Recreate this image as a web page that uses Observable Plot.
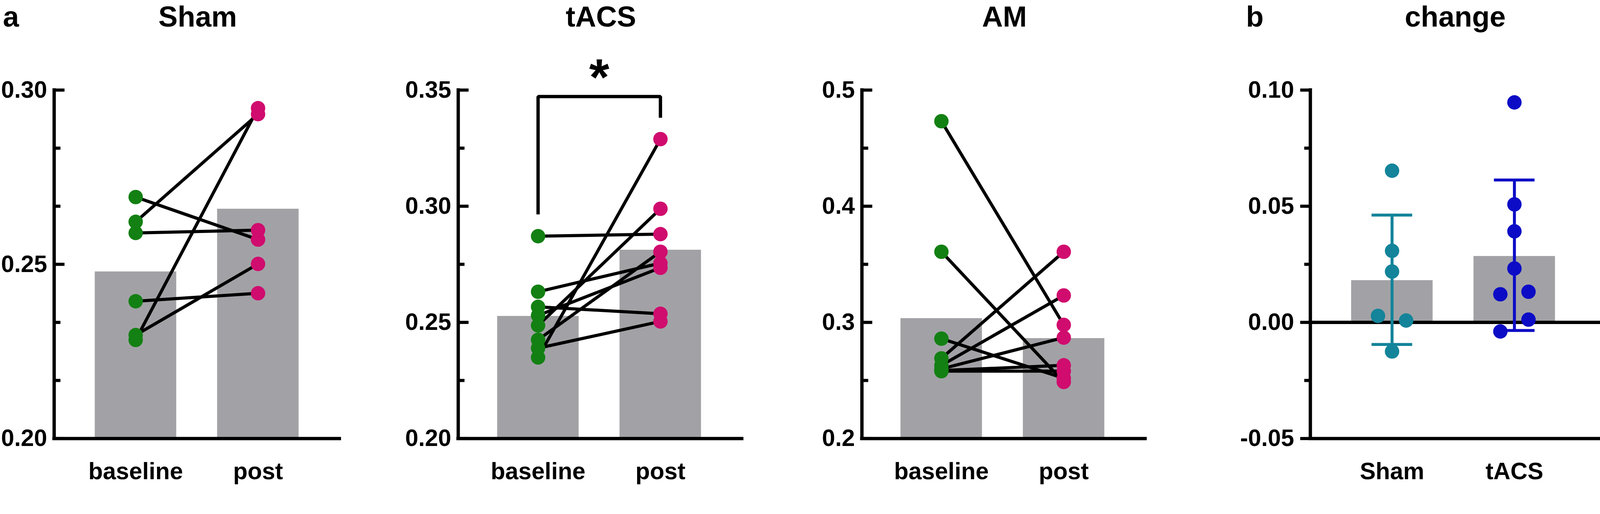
<!DOCTYPE html>
<html>
<head>
<meta charset="utf-8">
<script src="https://cdn.jsdelivr.net/npm/d3@7"></script>
<script src="https://cdn.jsdelivr.net/npm/@observablehq/plot@0.6"></script>
<style>
  html, body { margin: 0; padding: 0; background: #fff; overflow: hidden; }
  #fig { position: relative; width: 4328px; height: 1315px; overflow: hidden; transform-origin: 0 0; }
  #fig > div { position: absolute; top: 0; }
</style>
</head>
<body>
<div id="fig"></div>
<script>
// x categories
const groupsA = ["baseline", "post"];
const groupsB = ["Sham", "tACS"];

// panel a: paired values, one entry per subject
const shamBaseline = [0.2693, 0.2622, 0.2590, 0.2394, 0.2283, 0.2297];
const shamPost     = [0.2571, 0.2931, 0.2598, 0.2417, 0.2948, 0.2501];
const shamMeans    = [0.2479, 0.2659];

const tacsBaseline = [0.2871, 0.2632, 0.2567, 0.2487, 0.2425, 0.2530, 0.2389, 0.2349];
const tacsPost     = [0.2880, 0.2755, 0.2537, 0.2989, 0.2804, 0.2735, 0.2504, 0.3289];
const tacsMeans    = [0.2527, 0.2812];

const amBaseline = [0.4732, 0.3608, 0.2860, 0.2690, 0.2630, 0.2600, 0.2585, 0.2580];
const amPost     = [0.2978, 0.2487, 0.2519, 0.3608, 0.3232, 0.2869, 0.2631, 0.2580];
const amMeans    = [0.3035, 0.2863];

// significance bracket over tACS (x: 0 = baseline, 1 = post)
const bracketX = [0, 0, 1, 1];
const bracketY = [0.2965, 0.3472, 0.3472, 0.3381];

// panel b: change post - baseline
const shamChange = [0.0653, 0.0308, 0.0219, 0.0028, 0.0008, -0.0125];
const shamSide   = [0, 0, 0, -1, 1, 0];
const tacsChange = [0.0947, 0.0508, 0.0392, 0.0232, 0.0121, 0.0132, 0.0012, -0.0039];
const tacsSide   = [0, 0, 0, 0, -1, 1, 1, -1];
const changeMean = [0.0181, 0.0285];
const changeLow  = [-0.0095, -0.0035];
const changeHigh = [0.0462, 0.0613];

// y axes
const shamTicks = [0.2, 0.21667, 0.23333, 0.25, 0.26667, 0.28333, 0.3];
const shamLabels = [0.2, 0.25, 0.3];
const tacsTicks = [0.2, 0.225, 0.25, 0.275, 0.3, 0.325, 0.35];
const tacsLabels = [0.2, 0.25, 0.3, 0.35];
const amTicks = [0.2, 0.25, 0.3, 0.35, 0.4, 0.45, 0.5];
const amLabels = [0.2, 0.3, 0.4, 0.5];
const changeTicks = [-0.05, -0.025, 0, 0.025, 0.05, 0.075, 0.1];
const changeLabels = [-0.05, 0, 0.05, 0.1];

const green = "#138013", pink = "#d00c6e", gray = "#a2a2a6";
const teal = "#13849a", blue = "#0c0cc6";
const unit = 331; // px between the two categories
const fig = document.getElementById("fig");

// keep the 4328x1315 figure inside the window whatever its css size
const fitScale = Math.min(window.innerWidth / 4328, window.innerHeight / 1315);
if (fitScale < 0.999) fig.style.transform = `scale(${fitScale})`;

function panel(cfg) {
  const {axisX, frameW, off0, yDomain, yTicks, yLabels, digits, inward, groups} = cfg;
  const marginLeft = 200, marginRight = cfg.marginRight ?? 40;
  const xLo = -off0 / unit;
  const isMajor = t => yLabels.some(l => Math.abs(l - t) < 1e-6);
  const major = yTicks.filter(isMajor), minor = yTicks.filter(t => !isMajor(t));
  const tickRule = (vals, len) => inward
    ? Plot.ruleY(vals, {strokeWidth: 8.5, insetRight: frameW - len})
    : Plot.ruleY(vals, {strokeWidth: 8.5, insetLeft: -len, insetRight: frameW});

  const marks = [
    ...cfg.marks,
    Plot.ruleX([xLo], {y1: () => yDomain[0], y2: () => yDomain[1], strokeWidth: 9, strokeLinecap: "square"}),
    Plot.ruleY([yDomain[0]], {strokeWidth: 9, insetLeft: -4.5}),
    tickRule(major, inward ? 28.5 : 27),
    tickRule(minor, inward ? 17.5 : 16),
    Plot.text([cfg.title], {text: d => d, frameAnchor: "top", lineAnchor: "bottom", dy: -172, fontSize: 78}),
    ...cfg.after
  ];
  if (cfg.tag) {
    marks.push(Plot.text([cfg.tag], {
      text: d => d, frameAnchor: "top-left", textAnchor: "start", lineAnchor: "bottom",
      dx: cfg.tagDx, dy: cfg.tagDy, fontSize: 78
    }));
  }

  const chart = Plot.plot({
    width: marginLeft + frameW + marginRight,
    height: 1315,
    marginTop: 243,
    marginBottom: 130,
    marginLeft,
    marginRight,
    x: {
      domain: [xLo, xLo + frameW / unit],
      ticks: [0, 1],
      tickFormat: i => groups[i],
      tickSize: 0,
      tickPadding: 64,
      label: null
    },
    y: {
      domain: yDomain,
      ticks: yLabels,
      tickSize: 0,
      tickPadding: inward ? 19 : 44,
      tickFormat: d => d.toFixed(digits),
      label: null
    },
    style: {
      fontFamily: '"Liberation Sans", Arial, sans-serif',
      fontSize: "64px",
      fontWeight: "bold",
      background: "none",
      maxWidth: "none",
      overflow: "visible"
    },
    marks
  });
  const holder = document.createElement("div");
  holder.style.left = (axisX - marginLeft) + "px";
  holder.append(chart);
  fig.append(holder);
}

function pairedMarks(base, post, means, yMin) {
  const pairs = base.map((b, i) => ({base: b, post: post[i]}));
  const bars = means.map((m, i) => ({i, m}));
  return [
    Plot.rect(bars, {x1: d => d.i - 0.333, x2: d => d.i + 0.333, y1: () => yMin, y2: "m", fill: gray}),
    Plot.link(pairs, {x1: () => 0, x2: () => 1, y1: "base", y2: "post", stroke: "#000", strokeWidth: 8.5}),
    Plot.dot(pairs, {x: () => 0, y: "base", r: 19.5, fill: green}),
    Plot.dot(pairs, {x: () => 1, y: "post", r: 19.5, fill: pink})
  ];
}

// Sham
panel({
  axisX: 145.5, frameW: 776.5, off0: 220.5, inward: true, groups: groupsA,
  yDomain: [0.2, 0.3], yTicks: shamTicks, yLabels: shamLabels, digits: 2,
  title: "Sham", tag: "a", tagDx: -138.5, tagDy: -172,
  marks: pairedMarks(shamBaseline, shamPost, shamMeans, 0.2), after: []
});

// tACS
const bracket = bracketX.map((x, i) => ({x, y: bracketY[i]}));
panel({
  axisX: 1239, frameW: 772, off0: 216, inward: true, groups: groupsA,
  yDomain: [0.2, 0.35], yTicks: tacsTicks, yLabels: tacsLabels, digits: 2,
  title: "tACS",
  marks: pairedMarks(tacsBaseline, tacsPost, tacsMeans, 0.2),
  after: [
    Plot.line(bracket, {x: "x", y: "y", stroke: "#000", strokeWidth: 9, strokeLinejoin: "miter", strokeLinecap: "butt"}),
    Plot.text(["*"], {text: d => d, x: () => 0.5, y: () => bracketY[1], lineAnchor: "bottom", dy: -4, fontSize: 140})
  ]
});

// AM
panel({
  axisX: 2331, frameW: 771, off0: 215, inward: true, groups: groupsA,
  yDomain: [0.2, 0.5], yTicks: amTicks, yLabels: amLabels, digits: 1,
  title: "AM",
  marks: pairedMarks(amBaseline, amPost, amMeans, 0.2), after: []
});

// change
const changeBars = changeMean.map((m, i) => ({i, m, lo: changeLow[i], hi: changeHigh[i], c: i ? blue : teal}));
const changeDots = shamChange.map((v, k) => ({i: 0, v, side: shamSide[k], c: teal}))
  .concat(tacsChange.map((v, k) => ({i: 1, v, side: tacsSide[k], c: blue})));
panel({
  axisX: 3544, frameW: 784, off0: 221, inward: false, groups: groupsB, marginRight: 0,
  yDomain: [-0.05, 0.1], yTicks: changeTicks, yLabels: changeLabels, digits: 2,
  title: "change", tag: "b", tagDx: -174, tagDy: -172,
  marks: [
    Plot.rect(changeBars, {x1: d => d.i - 0.333, x2: d => d.i + 0.333, y1: () => 0, y2: "m", fill: gray}),
    Plot.ruleY([0], {strokeWidth: 9, insetLeft: -4.5})
  ],
  after: [
    Plot.ruleX(changeBars, {x: "i", y1: "lo", y2: "hi", stroke: "c", strokeWidth: 8}),
    Plot.ruleY(changeBars, {y: "hi", x1: d => d.i - 0.166, x2: d => d.i + 0.166, stroke: "c", strokeWidth: 8}),
    Plot.ruleY(changeBars, {y: "lo", x1: d => d.i - 0.166, x2: d => d.i + 0.166, stroke: "c", strokeWidth: 8}),
    Plot.dot(changeDots, {x: d => d.i + d.side * 0.115, y: "v", r: 19.5, fill: "c"})
  ]
});
</script>
</body>
</html>
